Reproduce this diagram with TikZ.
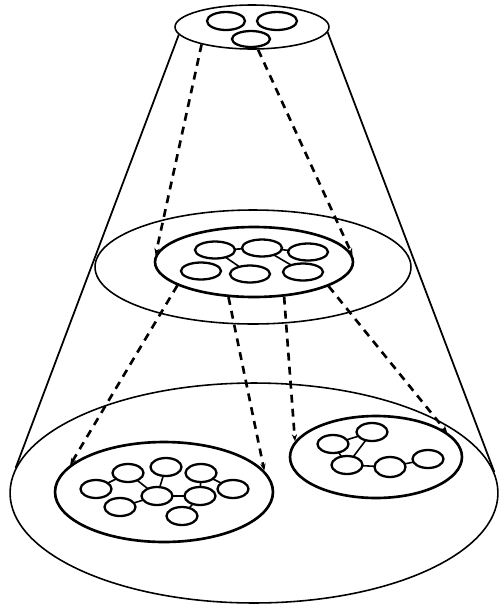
\documentclass[tikz,border=0pt]{standalone}
\usetikzlibrary{shapes.geometric,arrows.meta}
\begin{document}
\begin{tikzpicture}[x=0.02cm,y=-0.02cm,
  cell/.style={ellipse,draw,line width=1.3pt,inner sep=0pt,minimum width=0.62cm,minimum height=0.36cm},
  bigcell/.style={cell,minimum width=0.8cm,minimum height=0.34cm},
  group/.style={ellipse,draw,line width=1.5pt,inner sep=0pt},
  slice/.style={ellipse,draw,line width=0.9pt,inner sep=0pt},
  link/.style={line width=0.9pt,shorten <=-1pt,shorten >=-1pt},
  map/.style={line width=1.5pt,dash pattern=on 4.5pt off 3.5pt,-{Stealth[length=4pt,width=3pt]}}]
\useasboundingbox (0,0) rectangle (500,606);
% cone: top, middle and base slices
\node[slice,minimum width=3.08cm,minimum height=0.88cm] (apex) at (252,27) {};
\node[slice,minimum width=6.32cm,minimum height=2.28cm] (mid) at (253,267) {};
\node[slice,minimum width=9.76cm,minimum height=4.4cm] (base) at (254,493) {};
\draw[line width=1pt] (apex.186) -- (base.174.5);
\draw[line width=1pt] (apex.356) -- (base.5.9);
% clusters
\node[group,minimum width=3.96cm,minimum height=1.4cm] (midc) at (254,262) {};
\node[group,minimum width=4.36cm,minimum height=2.0cm] (lowl) at (164,492) {};
\node[group,minimum width=3.44cm,minimum height=1.64cm] (lowr) at (376,457) {};
% top level
\node[bigcell,minimum width=0.76cm,minimum height=0.36cm] (t1) at (226,21) {};
\node[bigcell,minimum width=0.8cm,minimum height=0.36cm] (t2) at (277,21) {};
\node[bigcell,minimum width=0.76cm,minimum height=0.32cm] (t3) at (251,39) {};
% middle level
\node[bigcell] (m1) at (215,250) {};
\node[bigcell] (m2) at (262,248) {};
\node[bigcell] (m3) at (308,252) {};
\node[bigcell] (m4) at (201,271) {};
\node[bigcell] (m5) at (250,274) {};
\node[bigcell] (m6) at (303,272) {};
\foreach \a/\b in {m1/m2,m2/m3,m1/m5,m2/m6} \draw[link] (\a) -- (\b);
% bottom level, left group
\node[cell] (b1) at (96,489) {};
\node[cell] (b2) at (128,473) {};
\node[cell] (b3) at (166,467) {};
\node[cell] (b4) at (201,473) {};
\node[cell] (b5) at (233,489) {};
\node[cell] (b6) at (157,496) {};
\node[cell] (b7) at (200,496) {};
\node[cell] (b8) at (120,507) {};
\node[cell] (b9) at (182,516) {};
\foreach \a/\b in {b1/b2,b2/b6,b3/b6,b6/b7,b7/b4,b7/b9,b6/b8,b4/b5} \draw[link] (\a) -- (\b);
% bottom level, right group
\node[cell] (r1) at (333,444) {};
\node[cell] (r2) at (372,432) {};
\node[cell] (r3) at (347,465) {};
\node[cell,minimum height=0.4cm] (r4) at (390,467) {};
\node[cell] (r5) at (428,459) {};
\foreach \a/\b in {r1/r2,r2/r3,r1/r3,r3/r4,r4/r5} \draw[link] (\a) -- (\b);
% mappings between levels
\draw[map] (apex.199) -- (midc.176);
\draw[map] (apex.285) -- (midc.4);
\draw[map] (midc.197) -- (lowl.164);
\draw[map] (midc.234) -- (lowl.12);
\draw[map] (midc.311) -- (lowr.169);
\draw[map] (midc.342) -- (lowr.19);
\end{tikzpicture}
\end{document}
